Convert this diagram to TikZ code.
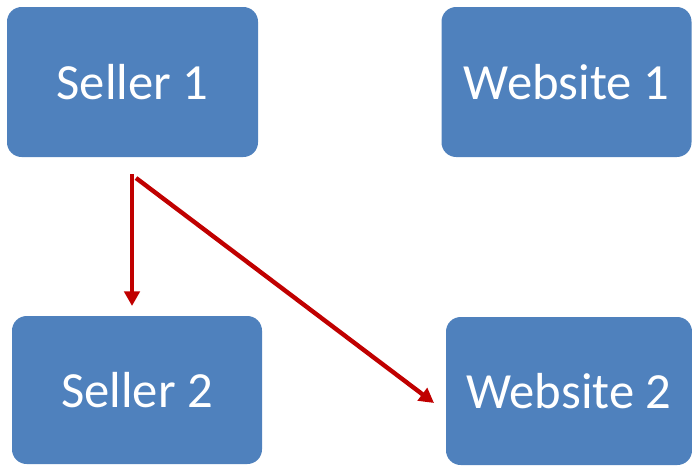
\documentclass[tikz,border=0pt]{standalone}
\usepackage{fontspec}
\setmainfont{Carlito}
\usetikzlibrary{arrows.meta}
\definecolor{boxblue}{HTML}{4F81BD}
\definecolor{arrred}{HTML}{C00000}
\tikzset{
  box/.style={fill=boxblue, draw=none, rounded corners=11pt, text=white,
    font=\fontsize{38}{44}\selectfont, inner sep=0pt},
  conn/.style={draw=arrred, line width=3.3pt,
    -{Triangle[width=11.5pt,length=11pt]}}
}
\begin{document}
\begin{tikzpicture}[x=0.75pt,y=-0.75pt]
\useasboundingbox (0,0) rectangle (692,465);
\node[box, minimum width=251*0.75pt, minimum height=150*0.75pt] (s1) at (132.5,82) {Seller 1};
\node[box, minimum width=250*0.75pt, minimum height=150*0.75pt] (w1) at (566.5,82) {Website 1};
\node[box, minimum width=250*0.75pt, minimum height=148*0.75pt] (s2) at (137,390) {Seller 2};
\node[box, minimum width=246*0.75pt, minimum height=148*0.75pt] (w2) at (569,391) {Website 2};
\coordinate (a1) at (132,174);
\coordinate (a1e) at (132,306);
\coordinate (a2) at (136,178);
\coordinate (a2e) at (434,403);
\draw[conn] (a1) -- (a1e);
\draw[conn] (a2) -- (a2e);
\end{tikzpicture}
\end{document}
